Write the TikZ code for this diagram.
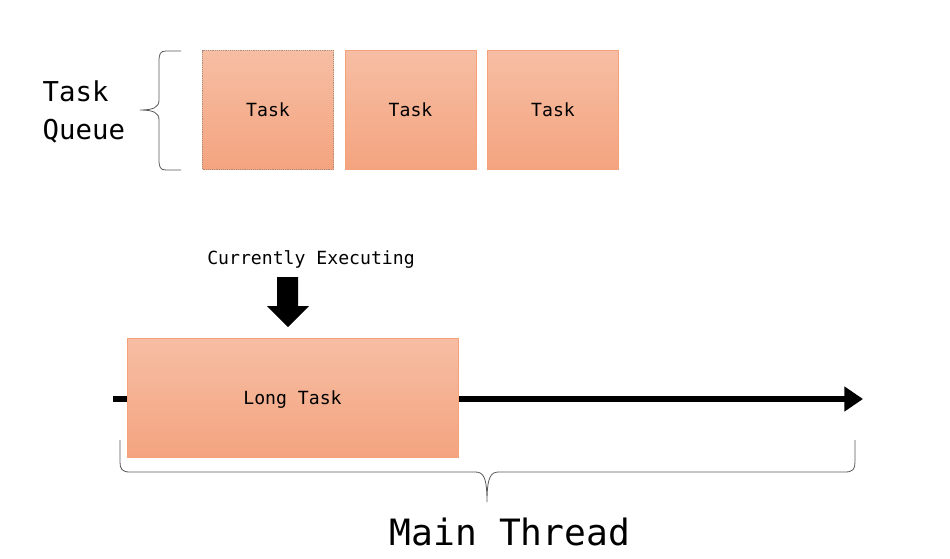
\documentclass[tikz,border=0pt]{standalone}
\usepackage{xcolor}
\usepackage{fontspec}
\usepackage{tikz}
\usetikzlibrary{positioning}
\usetikzlibrary{arrows.meta, shadings}
\newfontfamily\codefont{DejaVu Sans Mono}
\definecolor{tasktop}{HTML}{F6BEA4}
\definecolor{taskbot}{HTML}{F4A47F}
\definecolor{taskline}{HTML}{F5A27C}
\tikzset{
    task/.style={rectangle, draw=taskline, top color=tasktop, bottom color=taskbot, minimum height=119*0.75pt, minimum width=131*0.75pt, text depth=0.5pt, font=\codefont\fontsize{13.6}{16}\selectfont},
    longtask/.style={task, minimum width=331*0.75pt},
    brace/.style={draw=gray!70!black, line width=0.6pt},
    thread/.style={line width=4.5pt, -{Triangle[length=14pt, width=18pt]}}
}

\begin{document}
\begin{tikzpicture}[x=0.75pt, y=-0.75pt]
\useasboundingbox (0,0) rectangle (950,558);

% task queue
\node [task, draw=gray!60!taskline, densely dotted] (task1) at (268,110) {Task};
\node [task, right=11*0.75pt of task1]              (task2)              {Task};
\node [task, right=11*0.75pt of task2]              (task3)              {Task};
\node [align=left, anchor=west, font=\codefont\fontsize{20.5}{28.5}\selectfont] (queue) at (38,112) {Task\\Queue};

\coordinate (qtop) at (181,51);
\coordinate (qbot) at (181,170);
\coordinate (qtip) at (140,110);
\draw [brace] (qtop) -- (166,51) .. controls (160,51) and (159,54) .. (159,62)
    -- (159,100) .. controls (159,107) and (154,110) .. (qtip)
    .. controls (154,110) and (159,113) .. (159,120)
    -- (159,159) .. controls (159,167) and (160,170) .. (166,170) -- (qbot);

% main thread
\coordinate (start) at (113,399);
\coordinate (end)   at (863,399);
\draw [thread] (start) -- (end);
\node [longtask] (long) at (292.5,397.5) {Long Task};

\node [font=\codefont\fontsize{13.6}{16}\selectfont] (exec) at (311,260) {Currently Executing};
\fill (277,277) -- (298,277) -- (298,306) -- (309,306) -- (288,327) -- (267,306) -- (277,306) -- cycle;

\coordinate (mleft)  at (120,440);
\coordinate (mright) at (855,440);
\coordinate (mtip)   at (487,502);
\draw [brace] (mleft) -- (120,462) .. controls (120,469) and (122,472) .. (130,472)
    -- (475,472) .. controls (483,472) and (487,476) .. (mtip)
    .. controls (487,476) and (491,472) .. (499,472)
    -- (845,472) .. controls (853,472) and (855,469) .. (855,462) -- (mright);
\node [font=\codefont\fontsize{27.2}{32}\selectfont] (main) at (510,532) {Main Thread};

\end{tikzpicture}
\end{document}
